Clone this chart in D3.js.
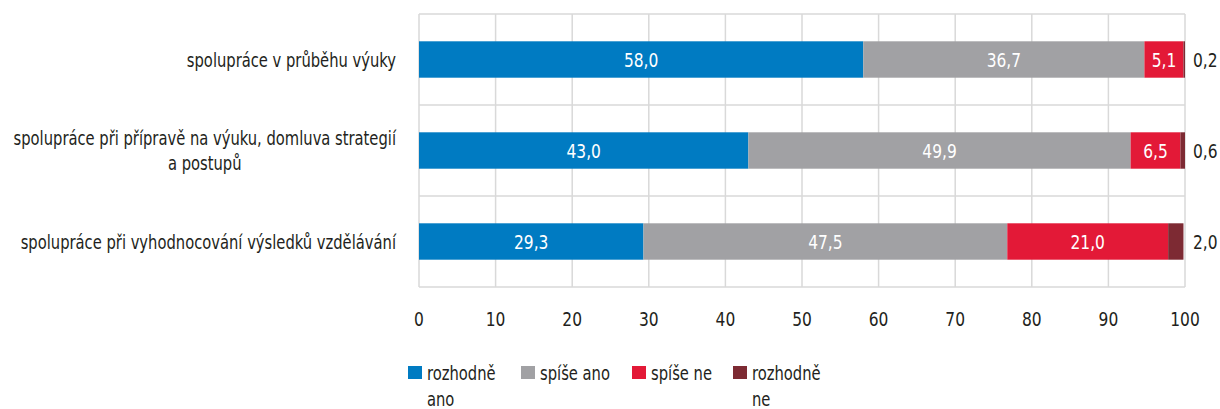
<!DOCTYPE html>
<html><head><meta charset="utf-8">
<script src="https://cdn.jsdelivr.net/npm/d3@7"></script>
<style>
body{margin:0;background:#fff;}
text{font-family:"DejaVu Sans Condensed","Liberation Sans Narrow",sans-serif;}
</style></head>
<body><svg id="c" width="1220" height="409"></svg>
<script>
const categories = [
  ["spolupráce v průběhu výuky"],
  ["spolupráce při přípravě na výuku, domluva strategií","a postupů"],
  ["spolupráce při vyhodnocování výsledků vzdělávání"]
];
const seriesNames = ["rozhodně ano","spíše ano","spíše ne","rozhodně ne"];
const legendLines = [["rozhodně","ano"],["spíše ano"],["spíše ne"],["rozhodně","ne"]];
const rozhodneAno = [58.0, 43.0, 29.3];
const spiseAno = [36.7, 49.9, 47.5];
const spiseNe = [5.1, 6.5, 21.0];
const rozhodneNe = [0.2, 0.6, 2.0];
const xTicks = [0,10,20,30,40,50,60,70,80,90,100];
const colors = ["#007bc2","#a1a1a4","#e31937","#7d2a33"];

const svg = d3.select("#c");
const m = {left:419, right:1185, top:14, bottom:287};
const x = d3.scaleLinear().domain([0,100]).range([m.left, m.right]);
const y = d3.scaleBand().domain(d3.range(categories.length)).range([m.top, m.bottom]).paddingInner(0.6).paddingOuter(0.3);
const yb = d3.scaleBand().domain(d3.range(categories.length)).range([m.top, m.bottom]);

const FS = 20, SX_TXT = 0.82, SX_NUM = 0.86;
// narrow text helper: draws text at (px,py) with horizontal compression
function ntext(parent, px, py, str, opts){
  const sx = opts.sx || SX_TXT;
  const g = parent.append("g").attr("transform",`translate(${px},${py}) scale(${sx},1)`);
  const t = g.append("text").attr("x",0).attr("y",0).attr("dy","0.35em")
    .attr("font-size",opts.fs||FS).attr("fill",opts.fill||"#231f20")
    .attr("text-anchor",opts.anchor||"start").text(str);
  return {g,t,sx};
}

const seriesVals = [rozhodneAno, spiseAno, spiseNe, rozhodneNe];
const rows = categories.map((c,i)=>{const o={i}; seriesNames.forEach((s,k)=>o[s]=seriesVals[k][i]); return o;});
const stacked = d3.stack().keys(seriesNames)(rows);

// grid
const grid = svg.append("g");
grid.selectAll("line.v").data(xTicks).join("line")
  .attr("x1",d=>x(d)).attr("x2",d=>x(d)).attr("y1",m.top).attr("y2",m.bottom)
  .attr("stroke","#d9d9d9").attr("stroke-width",1.5);
const hs = d3.range(categories.length+1).map(i=> i<categories.length? yb(i): m.bottom);
grid.selectAll("line.h").data(hs).join("line")
  .attr("x1",m.left).attr("x2",m.right).attr("y1",d=>d).attr("y2",d=>d)
  .attr("stroke","#d9d9d9").attr("stroke-width",1.5);

// bars
const g = svg.append("g");
stacked.forEach((layer,k)=>{
  g.selectAll(null).data(layer).join("rect")
    .attr("x",d=>x(d[0])).attr("width",d=>x(d[1])-x(d[0]))
    .attr("y",(d,i)=>y(i)).attr("height",y.bandwidth())
    .attr("fill",colors[k]);
});
// value labels
stacked.forEach((layer,k)=>{
  layer.forEach((d,i)=>{
    const val = seriesVals[k][i];
    const txt = val.toFixed(1).replace(".",",");
    const cy = y(i)+y.bandwidth()/2;
    if(k===3){
      ntext(svg, x(100)+8, cy, txt, {sx:SX_NUM});
    } else {
      ntext(svg, (x(d[0])+x(d[1]))/2, cy, txt, {sx:SX_NUM, anchor:"middle", fill:"#fff"});
    }
  });
});

// x axis labels
xTicks.forEach(d=> ntext(svg, x(d), 319, String(d), {sx:SX_NUM, anchor:"middle"}));

// category labels
const rightEdge = 396, lh = 25;
categories.forEach((lines,i)=>{
  const cy = yb(i)+yb.bandwidth()/2;
  const items = lines.map((l,j)=> ntext(svg, 0, cy + (j-(lines.length-1)/2)*lh, l, {anchor:"middle"}));
  const w = d3.max(items, it=>it.t.node().getComputedTextLength()*it.sx);
  items.forEach((it,j)=> it.g.attr("transform",`translate(${rightEdge - w/2},${cy + (j-(lines.length-1)/2)*lh}) scale(${it.sx},1)`));
});

// legend
const lx = [408, 521, 632, 733];
seriesNames.forEach((s,k)=>{
  svg.append("rect").attr("x",lx[k]).attr("y",366).attr("width",14).attr("height",13).attr("fill",colors[k]);
  legendLines[k].forEach((l,j)=> ntext(svg, lx[k]+19, 373+j*26, l, {}));
});
</script></body></html>
